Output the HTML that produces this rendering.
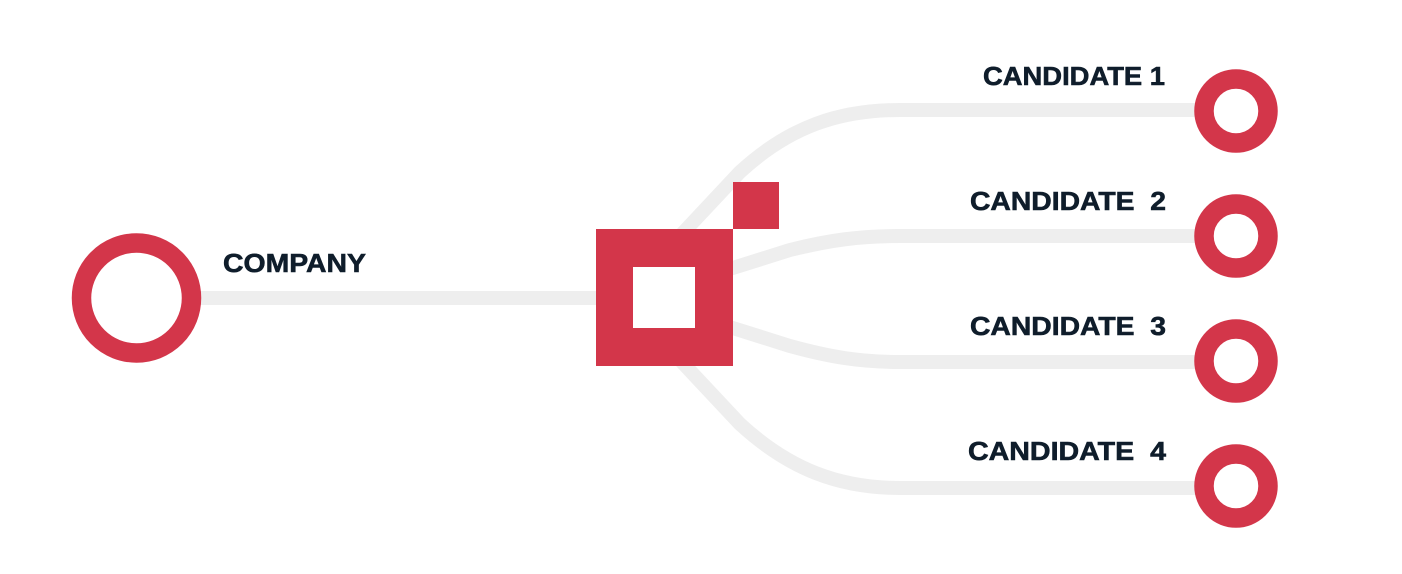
<!DOCTYPE html>
<html><head><meta charset="utf-8"><style>
html,body{margin:0;padding:0;background:#fff;}
svg{display:block;}
text{font-family:"Liberation Sans",sans-serif;font-weight:bold;fill:#0f1d2b;stroke:#0f1d2b;stroke-width:0.6;}
</style></head><body>
<svg width="1402" height="574" viewBox="0 0 1402 574" xmlns="http://www.w3.org/2000/svg">
<g fill="none" stroke="#eeeeee" stroke-width="14">
<line x1="190" y1="298" x2="600" y2="298"/>
<path d="M680 236 L740 172 C790 126 840 110 900 110 L1200 110"/>
<path d="M680 360 L740 424 C790 470 840 488 900 488 L1200 488"/>
<path d="M720 272 L790 250 C830 240 860 236 900 236 L1200 236"/>
<path d="M720 324 L790 346 C830 357 860 362 900 362 L1200 362"/>
</g>
<rect x="596" y="229" width="137" height="137" fill="#d3364a"/>
<rect x="633" y="267" width="62" height="61" fill="#fff"/>
<rect x="733" y="182" width="46" height="47" fill="#d3364a"/>
<g fill="none" stroke="#d3364a" stroke-width="19.5">
<circle cx="136.5" cy="298" r="55"/>
<circle cx="1236" cy="111" r="32"/>
<circle cx="1236" cy="236" r="32"/>
<circle cx="1236" cy="361" r="32"/>
<circle cx="1236" cy="486" r="32"/>
</g>
<text x="223" y="272" font-size="26" textLength="143" lengthAdjust="spacingAndGlyphs">COMPANY</text>
<text x="983" y="85" font-size="26" textLength="182" lengthAdjust="spacingAndGlyphs">CANDIDATE 1</text>
<text x="970" y="210" font-size="26" textLength="196" lengthAdjust="spacingAndGlyphs" xml:space="preserve">CANDIDATE  2</text>
<text x="970" y="335" font-size="26" textLength="196" lengthAdjust="spacingAndGlyphs" xml:space="preserve">CANDIDATE  3</text>
<text x="968" y="460" font-size="26" textLength="198" lengthAdjust="spacingAndGlyphs" xml:space="preserve">CANDIDATE  4</text>
</svg>
</body></html>
